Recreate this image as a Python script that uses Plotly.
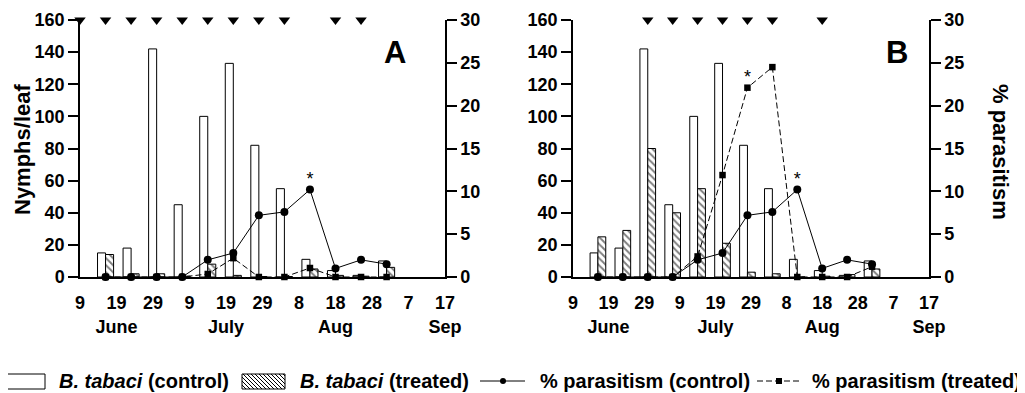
import plotly.graph_objects as go

W, H = 1025, 393
OFF = 8  # page body margin in the browser

# ---------------- data ----------------
sample_dates = ["1997-06-16", "1997-06-23", "1997-06-30", "1997-07-07", "1997-07-14",
                "1997-07-21", "1997-07-28", "1997-08-04", "1997-08-11", "1997-08-18",
                "1997-08-25", "1997-09-01"]

nymphs_control = [15, 18, 142, 45, 100, 133, 82, 55, 11, 4, 1, 10]
nymphs_treated_A = [14, 2, 2, 0.5, 8, 1, 0.3, 0.3, 5, 1, 0.5, 6]
nymphs_treated_B = [25, 29, 80, 40, 55, 21, 3, 2, 0, 0.5, 1.5, 5]

paras_control = [0, 0, 0, 0, 2.0, 2.8, 7.2, 7.6, 10.2, 1.0, 2.0, 1.5]
paras_treated_A = [0, 0, 0, 0, 0.35, 2.2, 0, 0, 1.05, 0, 0, 0]
paras_treated_B = [0, 0, 0, 0, 2.4, 11.9, 22.1, 24.5, 0, 0, 0, 1.2]

spray_A = ["1997-06-09", "1997-06-16", "1997-06-23", "1997-06-30", "1997-07-07",
           "1997-07-14", "1997-07-21", "1997-07-28", "1997-08-04", "1997-08-18",
           "1997-08-25"]
spray_B = ["1997-06-30", "1997-07-07", "1997-07-14", "1997-07-21", "1997-07-28",
           "1997-08-04", "1997-08-18"]
spray_level = 160

stars_A = {"dates": ["1997-08-11"], "values": [10.2]}
stars_B = {"dates": ["1997-07-28", "1997-08-11"], "values": [22.1, 10.2]}

tick_dates = ["1997-06-09", "1997-06-19", "1997-06-29", "1997-07-09", "1997-07-19",
              "1997-07-29", "1997-08-08", "1997-08-18", "1997-08-28", "1997-09-07",
              "1997-09-17"]
tick_labels = ["9", "19<br>June", "29", "9", "19<br>July", "29", "8", "18<br>Aug",
               "28", "7", "17<br>Sep"]

x_range = ["1997-06-09", "1997-09-17"]
# ---------------------------------------

FONT = "Liberation Sans, Arial, Helvetica, sans-serif"
DAY = 86400000
BW = 2.2 * DAY


def px(x):
    return (x - OFF) / W


def py(y):
    return 1 - (y - OFF) / H


fig = go.Figure()


def add_panel(xa, ya, ya2, treated, ptreated, spray, stars):
    fig.add_trace(go.Bar(x=sample_dates, y=nymphs_control, xaxis=xa, yaxis=ya,
                         width=BW, offset=-BW,
                         marker=dict(color="white", line=dict(color="black", width=1)),
                         showlegend=False))
    fig.add_trace(go.Bar(x=sample_dates, y=treated, xaxis=xa, yaxis=ya,
                         width=BW, offset=0,
                         marker=dict(color="white", line=dict(color="black", width=1),
                                     pattern=dict(shape="\\", fgcolor="black",
                                                  bgcolor="white", size=5, solidity=0.4)),
                         showlegend=False))
    fig.add_trace(go.Scatter(x=spray, y=[spray_level] * len(spray), xaxis=xa, yaxis=ya,
                             mode="markers", cliponaxis=False,
                             marker=dict(symbol="triangle-down", size=10, color="black"),
                             showlegend=False))
    fig.add_trace(go.Scatter(x=sample_dates, y=ptreated, xaxis=xa, yaxis=ya2,
                             mode="lines+markers", cliponaxis=False,
                             line=dict(color="black", width=1, dash="6px,3px"),
                             marker=dict(symbol="square", size=6.5, color="black"),
                             showlegend=False))
    fig.add_trace(go.Scatter(x=sample_dates, y=paras_control, xaxis=xa, yaxis=ya2,
                             mode="lines+markers", cliponaxis=False,
                             line=dict(color="black", width=1),
                             marker=dict(symbol="circle", size=8, color="black"),
                             showlegend=False))
    fig.add_trace(go.Scatter(x=stars["dates"], y=stars["values"], xaxis=xa, yaxis=ya2,
                             mode="text", text=["*"] * len(stars["dates"]),
                             textposition="top center", cliponaxis=False,
                             textfont=dict(size=18, color="black", family=FONT),
                             showlegend=False))


add_panel("x", "y", "y2", nymphs_treated_A, paras_treated_A, spray_A, stars_A)
add_panel("x2", "y3", "y4", nymphs_treated_B, paras_treated_B, spray_B, stars_B)

ydom = [py(277), py(20)]
xdomA = [px(80), px(445)]
xdomB = [px(573), px(929)]

tickfont = dict(family=FONT, size=18, color="black", weight="bold")
common_x = dict(type="date", range=x_range, tickmode="array", tickvals=tick_dates,
                ticktext=tick_labels, showline=True, linecolor="black", linewidth=1.5,
                ticks="", showgrid=False, zeroline=False, tickfont=tickfont,
                fixedrange=True, automargin=False, ticklabelstandoff=9)
common_yl = dict(range=[0, 160], dtick=20, tick0=0, showline=True, linecolor="black",
                 linewidth=1.5, ticks="outside", ticklen=10, tickwidth=1.5,
                 tickcolor="black", showgrid=False, zeroline=False, tickfont=tickfont,
                 domain=ydom, automargin=False)
common_yr = dict(range=[0, 30], dtick=5, tick0=0, showline=True, linecolor="black",
                 linewidth=1.5, ticks="outside", ticklen=10, tickwidth=1.5,
                 tickcolor="black", showgrid=False, zeroline=False, tickfont=tickfont,
                 side="right", automargin=False)

fig.update_layout(
    width=W, height=H, margin=dict(l=0, r=0, t=0, b=0, autoexpand=False),
    paper_bgcolor="white", plot_bgcolor="white",
    font=dict(family=FONT, color="black"),
    barmode="overlay", showlegend=False,
    xaxis=dict(domain=xdomA, anchor="y", **common_x),
    xaxis2=dict(domain=xdomB, anchor="y3", **common_x),
    yaxis=dict(anchor="x", **common_yl),
    yaxis2=dict(anchor="x", overlaying="y", **common_yr),
    yaxis3=dict(anchor="x2", **common_yl),
    yaxis4=dict(anchor="x2", overlaying="y3", **common_yr),
)

ann = []
ann.append(dict(text="Nymphs/leaf", x=px(22), y=py(150), textangle=-90, showarrow=False,
                xanchor="center", yanchor="middle",
                xref="paper", yref="paper", font=dict(size=22, family=FONT, weight="bold")))
ann.append(dict(text="% parasitism", x=px(1000), y=py(152), textangle=90, showarrow=False,
                xanchor="center", yanchor="middle",
                xref="paper", yref="paper", font=dict(size=22, family=FONT, weight="bold")))
ann.append(dict(text="A", x=px(395), y=py(53), showarrow=False, xref="paper", yref="paper",
                xanchor="center", yanchor="middle",
                font=dict(size=31, family=FONT, weight="bold")))
ann.append(dict(text="B", x=px(897), y=py(53), showarrow=False, xref="paper", yref="paper",
                xanchor="center", yanchor="middle",
                font=dict(size=31, family=FONT, weight="bold")))

LY = 381
legend_texts = [(57, "<i>B. tabaci</i> (control)"), (298, "<i>B. tabaci</i> (treated)"),
                (538, "% parasitism (control)"), (810, "% parasitism (treated)")]
for x0, t in legend_texts:
    ann.append(dict(text=t, x=px(x0), y=py(LY), xanchor="left", yanchor="middle",
                    showarrow=False, xref="paper", yref="paper",
                    font=dict(size=20, family=FONT, weight="bold")))

shapes = []
# white box
shapes.append(dict(type="rect", xref="paper", yref="paper", x0=px(-2), x1=px(45),
                   y0=py(389), y1=py(374), line=dict(color="black", width=1),
                   fillcolor="white"))
# hatched box
hx0, hx1, hy0, hy1 = 242, 285, 374, 389
shapes.append(dict(type="rect", xref="paper", yref="paper", x0=px(hx0), x1=px(hx1),
                   y0=py(hy1), y1=py(hy0), line=dict(color="black", width=1),
                   fillcolor="white"))
path = ""
hh = hy1 - hy0
s = hx0 - hh
while s < hx1:
    xa, ya_ = s, hy0
    xb, yb = s + hh, hy1
    if xa < hx0:
        ya_ = hy0 + (hx0 - xa)
        xa = hx0
    if xb > hx1:
        yb = hy1 - (xb - hx1)
        xb = hx1
    if xb > xa:
        path += f"M{px(xa)},{py(ya_)} L{px(xb)},{py(yb)} "
    s += 4
shapes.append(dict(type="path", xref="paper", yref="paper", path=path,
                   line=dict(color="black", width=1)))
# control line key
shapes.append(dict(type="line", xref="paper", yref="paper", x0=px(480), x1=px(525),
                   y0=py(LY), y1=py(LY), line=dict(color="black", width=1)))
shapes.append(dict(type="circle", xref="paper", yref="paper", x0=px(500), x1=px(506),
                   y0=py(LY + 3), y1=py(LY - 3), fillcolor="black",
                   line=dict(color="black", width=0)))
# treated line key
shapes.append(dict(type="line", xref="paper", yref="paper", x0=px(757), x1=px(801),
                   y0=py(LY), y1=py(LY), line=dict(color="black", width=1, dash="6px,3px")))
shapes.append(dict(type="rect", xref="paper", yref="paper", x0=px(776), x1=px(782),
                   y0=py(LY + 3), y1=py(LY - 3), fillcolor="black",
                   line=dict(color="black", width=0)))

fig.update_layout(annotations=ann, shapes=shapes)

fig.write_html("out.html")
